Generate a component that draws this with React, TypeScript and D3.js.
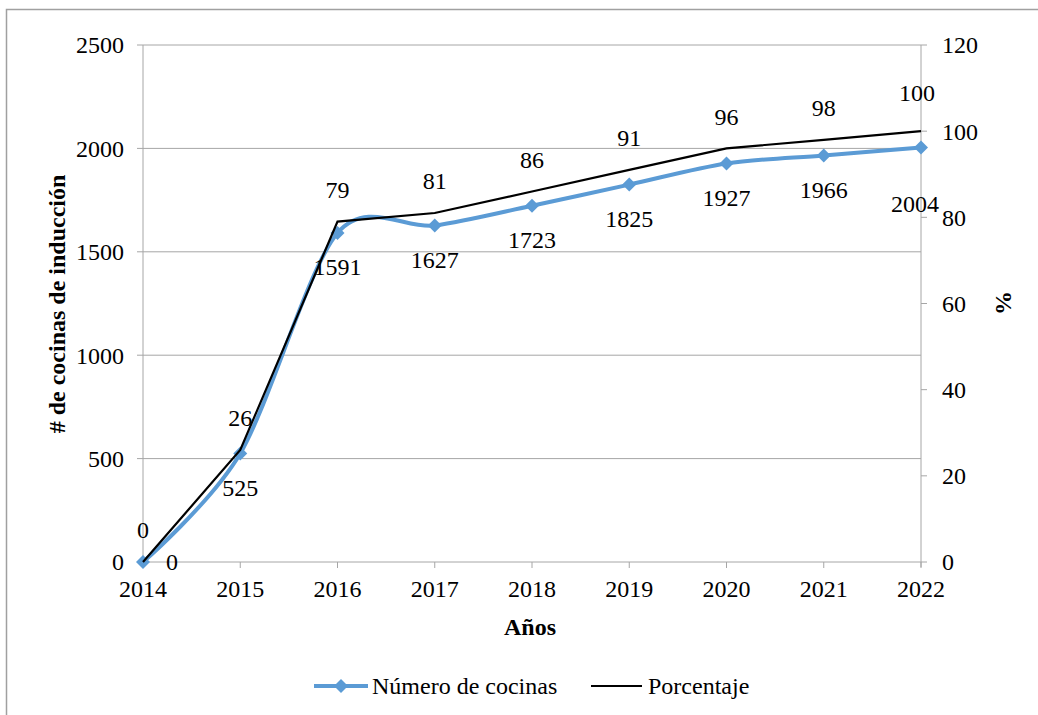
import React from "react";
import * as d3 from "d3";

const years = [2014, 2015, 2016, 2017, 2018, 2019, 2020, 2021, 2022];
const cocinas = [0, 525, 1591, 1627, 1723, 1825, 1927, 1966, 2004];
const porcentaje = [0, 26, 79, 81, 86, 91, 96, 98, 100];
const leftTicks = [0, 500, 1000, 1500, 2000, 2500];
const rightTicks = [0, 20, 40, 60, 80, 100, 120];

const W = 1038;
const H = 715;
const M = { left: 143, right: 921, top: 45, bottom: 562 };
const FONT = '"Liberation Serif", "DejaVu Serif", "Times New Roman", serif';
const BLUE = "#5B9BD5";
const GRID = "#A6A6A6";
const FS = 24;

export default function App() {
  const x = d3.scalePoint<number>().domain(years).range([M.left, M.right]);
  const yL = d3.scaleLinear().domain([0, 2500]).range([M.bottom, M.top]);
  const yR = d3.scaleLinear().domain([0, 120]).range([M.bottom, M.top]);

  const blueLine = d3
    .line<number>()
    .x((_, i) => x(years[i])!)
    .y((d) => yL(d))
    .curve(d3.curveCardinal.tension(0.1));
  const blackLine = d3
    .line<number>()
    .x((_, i) => x(years[i])!)
    .y((d) => yR(d));

  const diamond = (cx: number, cy: number, r: number) =>
    `M${cx},${cy - r}L${cx + r},${cy}L${cx},${cy + r}L${cx - r},${cy}Z`;

  return (
    <svg
      width={W}
      height={H}
      style={{ position: "absolute", left: 0, top: 0, background: "#fff", fontFamily: FONT }}
    >
      <style>{`text { font-family: ${FONT}; font-size: ${FS}px; fill: #000; }`}</style>

      {/* chart frame */}
      <path d={`M6.5,${H}V9.5H${W}`} fill="none" stroke="#A0A0A0" strokeWidth={1.5} />

      {/* horizontal grid */}
      {leftTicks.map((t) => (
        <line key={t} x1={M.left} x2={M.right} y1={yL(t)} y2={yL(t)} stroke={GRID} strokeWidth={1} />
      ))}

      {/* left axis */}
      <line x1={M.left} x2={M.left} y1={M.top} y2={M.bottom} stroke={GRID} />
      {leftTicks.map((t) => (
        <g key={t}>
          <line x1={M.left - 6} x2={M.left} y1={yL(t)} y2={yL(t)} stroke={GRID} />
          <text x={M.left - 19} y={yL(t)} dy="0.35em" textAnchor="end">
            {t}
          </text>
        </g>
      ))}

      {/* right axis */}
      <line x1={M.right} x2={M.right} y1={M.top} y2={M.bottom + 5} stroke={GRID} />
      {rightTicks.map((t) => (
        <g key={t}>
          <line x1={M.right} x2={M.right + 6} y1={yR(t)} y2={yR(t)} stroke={GRID} />
          <text x={M.right + 21} y={yR(t)} dy="0.35em" textAnchor="start">
            {t}
          </text>
        </g>
      ))}

      {/* x axis */}
      {years.map((yr) => (
        <g key={yr}>
          <line x1={x(yr)!} x2={x(yr)!} y1={M.bottom} y2={M.bottom + 6} stroke={GRID} />
          <text x={x(yr)!} y={M.bottom + 27} dy="0.35em" textAnchor="middle">
            {yr}
          </text>
        </g>
      ))}

      {/* axis titles */}
      <text x={530} y={627} dy="0.35em" textAnchor="middle" fontWeight="bold">
        Años
      </text>
      <text transform={`translate(57,304) rotate(-90)`} dy="0.35em" textAnchor="middle" fontWeight="bold">
        # de cocinas de inducción
      </text>
      <text transform={`translate(1003,303) rotate(-90)`} dy="0.35em" textAnchor="middle" fontWeight="bold">
        %
      </text>

      {/* series: número de cocinas */}
      <path d={blueLine(cocinas)!} fill="none" stroke={BLUE} strokeWidth={4} strokeLinejoin="round" />
      {cocinas.map((v, i) => (
        <path key={i} d={diamond(x(years[i])!, yL(v), 7)} fill={BLUE} />
      ))}

      {/* series: porcentaje */}
      <path d={blackLine(porcentaje)!} fill="none" stroke="#000" strokeWidth={2.2} />

      {/* value labels: cocinas */}
      {cocinas.map((v, i) => {
        const cx = x(years[i])!;
        const cy = yL(v);
        let lx = cx;
        let ly = cy + 34;
        if (i === 0) {
          lx = cx + 29;
          ly = cy;
        }
        if (i === cocinas.length - 1) {
          lx = cx - 6;
          ly = cy + 56;
        }
        return (
          <text key={i} x={lx} y={ly} dy="0.35em" textAnchor="middle">
            {v}
          </text>
        );
      })}

      {/* value labels: porcentaje */}
      {porcentaje.map((v, i) => {
        const cx = x(years[i])!;
        const cy = yR(v);
        const last = i === porcentaje.length - 1;
        return (
          <text key={i} x={cx - (last ? 4 : 0)} y={cy - (last ? 39 : 32)} dy="0.35em" textAnchor="middle">
            {v}
          </text>
        );
      })}

      {/* legend */}
      <g>
        <line x1={314} x2={368} y1={686} y2={686} stroke={BLUE} strokeWidth={4} />
        <path d={diamond(341, 686, 7)} fill={BLUE} />
        <text x={372} y={686} dy="0.35em">
          Número de cocinas
        </text>
        <line x1={591} x2={642} y1={686} y2={686} stroke="#000" strokeWidth={2.2} />
        <text x={648} y={686} dy="0.35em">
          Porcentaje
        </text>
      </g>
    </svg>
  );
}
